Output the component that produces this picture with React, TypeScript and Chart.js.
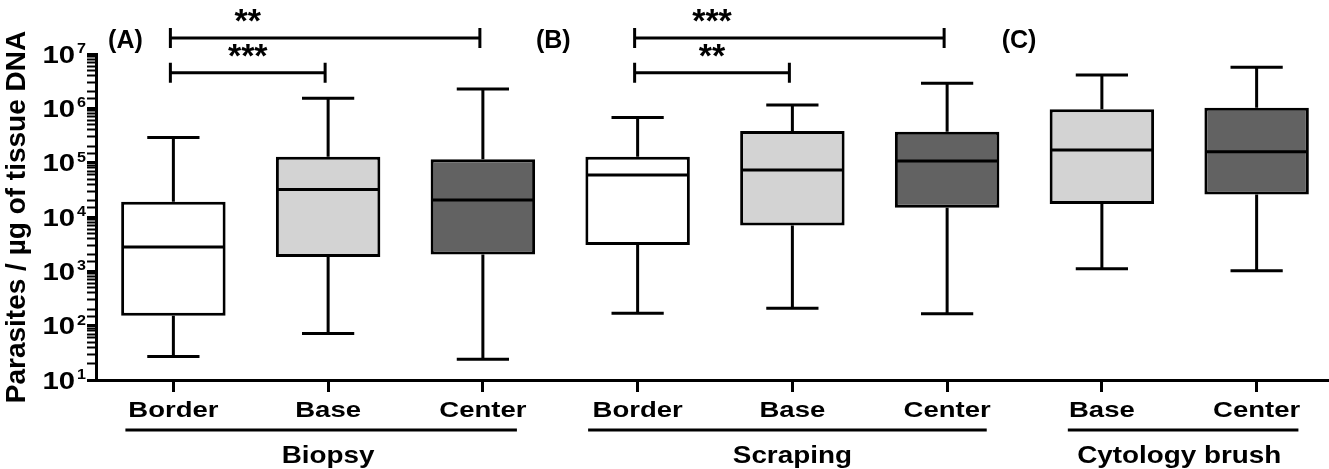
import React, { useEffect, useRef } from 'react';
import { Chart, registerables } from 'chart.js';

Chart.register(...registerables);

// ---------- data ----------
const categories = ['Border', 'Base', 'Center', 'Border', 'Base', 'Center', 'Base', 'Center'];
const groupNames = ['Biopsy', 'Scraping', 'Cytology brush'];
const groupFirst = [0, 3, 6];
const groupLast = [2, 5, 7];
const whiskerMin = [27, 72, 24, 170, 210, 165, 1120, 1030];
const quartile1 = [152, 1840, 2050, 3050, 7000, 14800, 17300, 26000];
const medians = [2800, 32000, 20500, 59000, 73000, 107000, 171000, 159000];
const quartile3 = [19000, 129000, 115000, 129000, 383000, 370000, 960000, 1030000];
const whiskerMax = [290000, 1530000, 2270000, 680000, 1150000, 2880000, 4100000, 5700000];
const yExponents = [1, 2, 3, 4, 5, 6, 7];
const bracketFrom = [0, 0, 3, 3];
const bracketTo = [2, 1, 5, 4];
const bracketLevel = [0, 1, 0, 1];
const bracketLabels = ['**', '***', '***', '**'];
const panelLabels = ['(A)', '(B)', '(C)'];
const yTitle = 'Parasites / µg of tissue DNA';

// ---------- styles / layout ----------
const FONT = '"Liberation Sans", Arial, Helvetica, sans-serif';
const fillByCategory: Record<string, string> = {
  Border: '#ffffff',
  Base: '#d3d3d3',
  Center: '#626262',
};
const panelLabelPos = [-0.31, 2.455, 5.465];
const groupLineStart = [-0.31, 2.68, 5.78];
const groupLineEnd = [2.22, 5.256, 7.27];
const bracketYOffset = [-16, 18.7];

function drawText(
  ctx: CanvasRenderingContext2D,
  text: string,
  x: number,
  y: number,
  size: number,
  align: CanvasTextAlign,
  baseline: CanvasTextBaseline,
  stretch = 1
) {
  ctx.save();
  ctx.translate(x, y);
  ctx.scale(stretch, 1);
  ctx.font = `bold ${size}px ${FONT}`;
  ctx.fillStyle = '#000';
  ctx.textAlign = align;
  ctx.textBaseline = baseline;
  ctx.fillText(text, 0, 0);
  ctx.restore();
}

const boxPartsPlugin = {
  id: 'boxParts',
  afterDatasetsDraw(chart: any) {
    const ctx: CanvasRenderingContext2D = chart.ctx;
    const ys = chart.scales.y;
    const meta = chart.getDatasetMeta(0);
    ctx.save();
    ctx.strokeStyle = '#000';
    ctx.lineWidth = 3;
    ctx.lineCap = 'butt';
    meta.data.forEach((bar: any, i: number) => {
      const { x, width } = bar.getProps(['x', 'width'], true);
      const yMin = ys.getPixelForValue(whiskerMin[i]);
      const yQ1 = ys.getPixelForValue(quartile1[i]);
      const yMed = ys.getPixelForValue(medians[i]);
      const yQ3 = ys.getPixelForValue(quartile3[i]);
      const yMax = ys.getPixelForValue(whiskerMax[i]);
      const cap = width / 4;
      ctx.beginPath();
      ctx.moveTo(x, yQ3);
      ctx.lineTo(x, yMax);
      ctx.moveTo(x, yQ1);
      ctx.lineTo(x, yMin);
      ctx.moveTo(x - cap, yMax);
      ctx.lineTo(x + cap, yMax);
      ctx.moveTo(x - cap, yMin);
      ctx.lineTo(x + cap, yMin);
      ctx.moveTo(x - width / 2 + 1, yMed);
      ctx.lineTo(x + width / 2 - 1, yMed);
      ctx.stroke();
    });
    ctx.restore();
  },
  afterDraw(chart: any) {
    const ctx: CanvasRenderingContext2D = chart.ctx;
    const xs = chart.scales.x;
    const ys = chart.scales.y;
    const area = chart.chartArea;

    // y tick labels 10^n
    yExponents.forEach((e) => {
      const y = ys.getPixelForValue(Math.pow(10, e));
      const supRight = 86;
      ctx.save();
      ctx.font = `bold 14px ${FONT}`;
      const supW = ctx.measureText(String(e)).width * 1.15;
      ctx.restore();
      drawText(ctx, String(e), supRight - supW, y - 1, 14, 'left', 'alphabetic', 1.15);
      drawText(ctx, '10', supRight - supW - 2, y + 8.5, 24, 'right', 'alphabetic', 1.22);
    });

    // x category labels
    categories.forEach((c, i) => {
      drawText(ctx, c, xs.getPixelForValue(i), 417, 22, 'center', 'alphabetic', 1.25);
    });

    // group underlines + labels
    ctx.save();
    ctx.strokeStyle = '#000';
    ctx.lineWidth = 3;
    groupNames.forEach((g, k) => {
      const x1 = xs.getPixelForValue(groupLineStart[k]);
      const x2 = xs.getPixelForValue(groupLineEnd[k]);
      ctx.beginPath();
      ctx.moveTo(x1, 430);
      ctx.lineTo(x2, 430);
      ctx.stroke();
      const cx = (xs.getPixelForValue(groupFirst[k]) + xs.getPixelForValue(groupLast[k])) / 2;
      drawText(ctx, g, cx, 463, 24, 'center', 'alphabetic', 1.16);
    });
    ctx.restore();

    // significance brackets
    ctx.save();
    ctx.strokeStyle = '#000';
    ctx.lineWidth = 3;
    bracketFrom.forEach((f, k) => {
      const yl = area.top + bracketYOffset[bracketLevel[k]];
      const x1 = xs.getPixelForValue(f) - 3;
      const x2 = xs.getPixelForValue(bracketTo[k]) - 3;
      ctx.beginPath();
      ctx.moveTo(x1, yl);
      ctx.lineTo(x2, yl);
      ctx.moveTo(x1, yl - 10);
      ctx.lineTo(x1, yl + 10);
      ctx.moveTo(x2, yl - 10);
      ctx.lineTo(x2, yl + 10);
      ctx.stroke();
      const lx = (xs.getPixelForValue(f) + xs.getPixelForValue(f + 1)) / 2 - 3;
      drawText(ctx, bracketLabels[k], lx, yl - 6, 34, 'center', 'alphabetic', 1.0);
    });
    ctx.restore();

    // panel labels
    panelLabels.forEach((p, k) => {
      drawText(ctx, p, xs.getPixelForValue(panelLabelPos[k]), 41, 25, 'center', 'middle', 1.0);
    });
  },
};

export default function App() {
  const canvasRef = useRef<HTMLCanvasElement | null>(null);

  useEffect(() => {
    document.body.style.overflow = 'hidden';
    const canvas = canvasRef.current;
    if (!canvas) return;
    const chart = new Chart(canvas, {
      type: 'bar',
      data: {
        labels: categories,
        datasets: [
          {
            data: categories.map((_, i) => [quartile1[i], quartile3[i]]),
            backgroundColor: categories.map((c) => fillByCategory[c]),
            borderColor: '#000',
            borderWidth: 3,
            borderSkipped: false,
            categoryPercentage: 1,
            barPercentage: 0.675,
          } as any,
        ],
      },
      options: {
        responsive: false,
        animation: false,
        events: [],
        layout: { padding: { left: 0, right: 3, top: 54, bottom: 0 } },
        plugins: {
          legend: { display: false },
          tooltip: { enabled: false },
          title: { display: false },
        },
        scales: {
          x: {
            type: 'category',
            offset: true,
            grid: {
              offset: false,
              drawOnChartArea: false,
              drawTicks: true,
              tickLength: 12,
              tickWidth: 3,
              tickColor: '#000',
            },
            border: { display: true, color: '#000', width: 3 },
            ticks: { display: false },
            afterFit: (scale: any) => {
              scale.height = 89;
            },
          },
          y: {
            type: 'logarithmic',
            min: 10,
            max: 10000000,
            grid: {
              drawOnChartArea: false,
              drawTicks: true,
              tickLength: 9,
              tickColor: '#000',
              tickWidth: (ctx: any) => {
                const v = ctx.tick ? ctx.tick.value : 0;
                const l = Math.log10(v);
                return Math.abs(l - Math.round(l)) < 1e-9 ? 3 : 2;
              },
            },
            border: { display: true, color: '#000', width: 3 },
            ticks: { display: false, autoSkip: false },
            title: {
              display: true,
              text: yTitle,
              color: '#000',
              font: { family: FONT, size: 28, weight: 'bold' },
              padding: { top: 0, bottom: 0 },
            },
            afterFit: (scale: any) => {
              scale.width = 96;
            },
          },
        },
      },
      plugins: [boxPartsPlugin],
    });
    return () => chart.destroy();
  }, []);

  return (
    <canvas
      ref={canvasRef}
      width={1337}
      height={469}
      style={{ position: 'fixed', left: 0, top: 0, display: 'block', background: '#fff' }}
    />
  );
}
